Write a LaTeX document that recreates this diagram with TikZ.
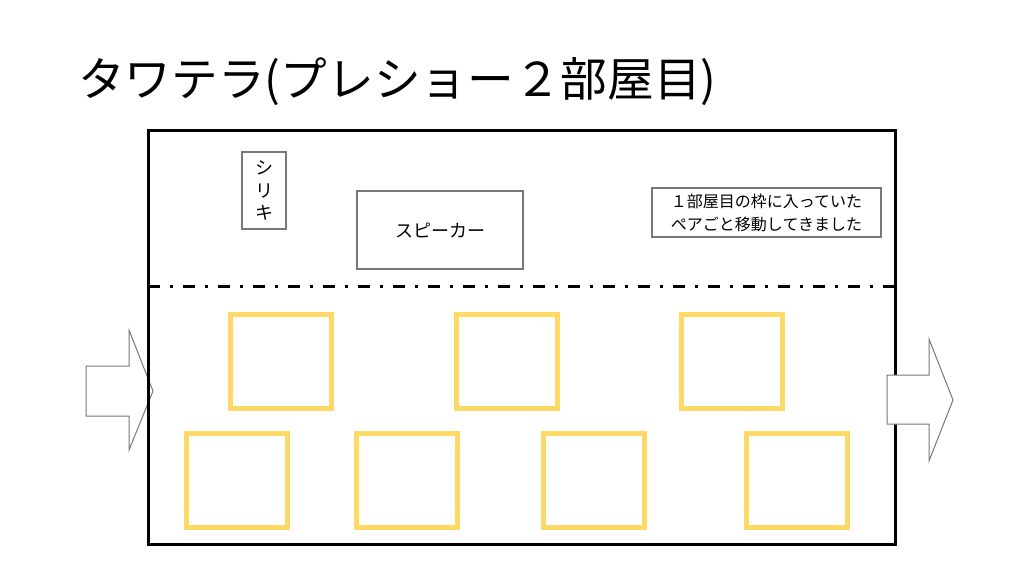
\documentclass[tikz,border=0pt]{standalone}
\usepackage{fontspec}
\newfontfamily\jp{Noto Sans CJK JP}
\definecolor{seat}{RGB}{255,217,102}
\definecolor{edge}{RGB}{120,120,120}
\begin{document}
\begin{tikzpicture}[x=0.75pt,y=-0.75pt,
  label box/.style={draw=edge,line width=0.8pt,fill=white,inner sep=0pt,align=center,font=\jp},
  seatbox/.style={draw=seat,line width=3.75pt,minimum width=75.75pt,minimum height=70.5pt,inner sep=0pt},
  flow/.style={draw=edge,line width=0.75pt,fill=white,line join=miter}]
\useasboundingbox[fill=white] (0,0) rectangle (1024,574);
% title
\node[anchor=base west,inner sep=0pt,font=\jp\fontsize{35pt}{40pt}\selectfont] (title) at (78,97) {タワテラ(プレショー２部屋目)};
% entry arrow (behind the wall)
\draw[flow] (86,366) -- (129,366) -- (129,330) -- (153,391) -- (129,450) -- (129,416) -- (86,416) -- cycle;
% room
\coordinate (roomNW) at (148,131);
\coordinate (roomSE) at (895,544);
\draw[line width=2.25pt] (roomNW) rectangle (roomSE);
\coordinate (divL) at (148,286);
\coordinate (divR) at (895,286);
\draw[line width=2.25pt,dash pattern=on 9pt off 7.5pt on 2.25pt off 7.5pt] (divL) -- (divR);
% exit arrow (in front of the wall)
\draw[flow] (887,375) -- (929,375) -- (929,339) -- (953,400) -- (929,461) -- (929,424) -- (887,424) -- cycle;
% labels
\node[label box,minimum width=33pt,minimum height=57.75pt,font=\jp\fontsize{13.5pt}{17pt}\selectfont] (shiriki) at (264,190.5) {シ\\リ\\キ};
\node[label box,minimum width=124.5pt,minimum height=58.5pt,font=\jp\fontsize{13.5pt}{16pt}\selectfont] (speaker) at (440,230) {スピーカー};
\node[label box,minimum width=171.75pt,minimum height=36.75pt,font=\jp\fontsize{12pt}{17.25pt}\selectfont] (note) at (766.5,212.5) {１部屋目の枠に入っていた\\ペアごと移動してきました};
% seats
\node[seatbox] (s1) at (280.5,361) {};
\node[seatbox] (s2) at (506.5,361) {};
\node[seatbox] (s3) at (731.5,361) {};
\node[seatbox] (s4) at (237,480) {};
\node[seatbox] (s5) at (407,480) {};
\node[seatbox] (s6) at (594,480) {};
\node[seatbox] (s7) at (797,480) {};
\end{tikzpicture}
\end{document}
